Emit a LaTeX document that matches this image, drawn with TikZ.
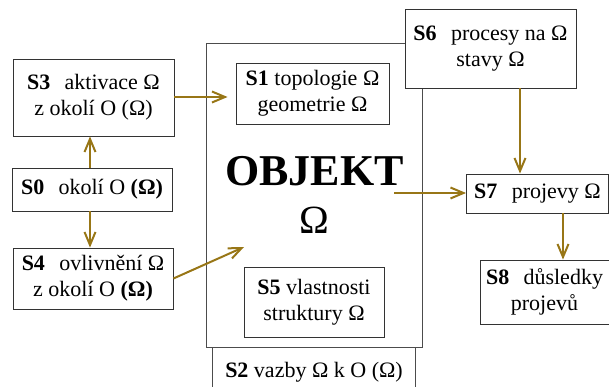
\documentclass[tikz,border=0pt]{standalone}
\usepackage{fontspec}
\setmainfont{Liberation Serif}
\usetikzlibrary{arrows.meta}
\definecolor{arrc}{RGB}{152,118,22}
\begin{document}
\begin{tikzpicture}[x=1pt,y=-1pt,
  box/.style={draw=black!80, line width=0.9pt, fill=white, align=center, inner sep=0pt,
    font=\fontsize{22}{26}\selectfont},
  bigbox/.style={draw=black!70, line width=0.9pt, align=center, inner sep=0pt,
    font=\fontsize{44}{48}\selectfont},
  side/.style={draw=black!70, line width=0.9pt},
  arr/.style={draw=arrc, line width=2pt,
    -{Straight Barb[length=13pt,width=11pt,line width=2pt]}}]
\useasboundingbox (0,0) rectangle (609,387);

% big object box
\node[bigbox, minimum width=216pt, minimum height=304pt] (obj) at (314.5,195)
  {\bfseries OBJEKT\\{\fontsize{40}{48}\selectfont Ω}};
\coordinate (objin) at (244,247);
\coordinate (objout) at (394,193);

% S2 below
\coordinate (s2l) at (212,347);
\coordinate (s2lb) at (212,387);
\coordinate (s2r) at (415,347);
\coordinate (s2rb) at (415,387);
\draw[side] (s2l) -- (s2lb);
\draw[side] (s2r) -- (s2rb);
\node[font=\fontsize{22}{26}\selectfont, anchor=base] (s2) at (314,377)
  {\textbf{S2} vazby Ω k O (Ω)};

% inner boxes
\node[box, minimum width=153pt, minimum height=61pt] (s1) at (312.5,93.5)
  {\textbf{S1} topologie Ω\\geometrie Ω};
\node[box, minimum width=140pt, minimum height=70pt] (s5) at (314,302)
  {\textbf{S5} vlastnosti\\struktury Ω};

% left boxes
\node[box, minimum width=161pt, minimum height=77pt] (s3) at (93.5,97.5)
  {\textbf{S3}\hspace{0.4em} aktivace Ω\\z okolí O (Ω)};
\node[box, minimum width=160pt, minimum height=43pt] (s0) at (92,189.5)
  {\textbf{S0}\hspace{0.4em} okolí O \textbf{(Ω)}};
\node[box, minimum width=160pt, minimum height=61pt] (s4) at (93,278.5)
  {\textbf{S4}\hspace{0.4em} ovlivnění Ω\\z okolí O \textbf{(Ω)}};

% right boxes
\node[box, minimum width=171pt, minimum height=79pt] (s6) at (490.5,48.5)
  {\textbf{S6}\hspace{0.4em} procesy na Ω\\stavy Ω};
\node[box, minimum width=142pt, minimum height=39pt] (s7) at (537.5,193.5)
  {\textbf{S7}\hspace{0.4em} projevy Ω};
\node[box, minimum width=129pt, minimum height=64pt] (s8) at (544.5,292)
  {\textbf{S8}\hspace{0.4em} důsledky\\projevů};

% arrows
\draw[arr] ([xshift=-2pt]s0.north) -- ([xshift=-2pt]s0.north |- s3.south);
\draw[arr] ([xshift=-2pt]s0.south) -- ([xshift=-2pt]s0.south |- s4.north);
\draw[arr, shorten >=8pt] ([yshift=0.5pt]s3.east) -- ([yshift=0.5pt]s3.east -| s1.west);
\draw[arr] (s4.east) -- (objin);
\draw[arr] (objout) -- (objout -| s7.west);
\draw[arr] ([xshift=29.5pt]s6.south) -- ([xshift=29.5pt]s6.south |- s7.north);
\draw[arr] ([xshift=25.5pt]s7.south) -- ([xshift=25.5pt]s7.south |- s8.north);
\end{tikzpicture}
\end{document}
